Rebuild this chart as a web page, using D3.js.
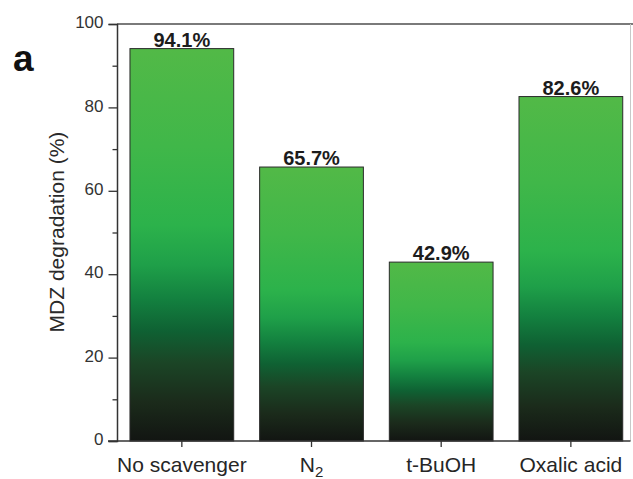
<!DOCTYPE html>
<html>
<head>
<meta charset="utf-8">
<script src="https://cdn.jsdelivr.net/npm/d3@7"></script>
<style>
  html, body { margin: 0; padding: 0; background: #fff; }
  svg { display: block; font-family: "Liberation Sans", Arial, sans-serif; }
</style>
</head>
<body>
<svg id="chart" width="633" height="479"></svg>
<script>
// Scavenger experiment: MDZ degradation (%) per condition
const categories = ["No scavenger", "N2", "t-BuOH", "Oxalic acid"];
const degradation = [94.1, 65.7, 42.9, 82.6];
const yTicks = [0, 20, 40, 60, 80, 100];
const yMinorTicks = [10, 30, 50, 70, 90];

const svg = d3.select("#chart");
const plotLeft = 117, plotRight = 630.5, plotTop = 24, plotBottom = 441;

const y = d3.scaleLinear().domain([0, 100]).range([plotBottom, plotTop]);
const x = d3.scaleBand()
  .domain(categories)
  .range([plotLeft, 635.7])
  .paddingInner(0.2)
  .paddingOuter(0.1);

// vertical green-to-black gradient, relative to each bar
const defs = svg.append("defs");
const grad = defs.append("linearGradient")
  .attr("id", "barFill")
  .attr("x1", 0).attr("y1", 0).attr("x2", 0).attr("y2", 1);
[
  [0.00, "#52b947"],
  [0.25, "#40b749"],
  [0.45, "#2cb24b"],
  [0.55, "#1fa049"],
  [0.64, "#13803f"],
  [0.72, "#0f6133"],
  [0.80, "#1b4526"],
  [0.90, "#1b2b1b"],
  [1.00, "#121512"]
].forEach(([o, c]) => grad.append("stop").attr("offset", o).attr("stop-color", c));

// bars
svg.append("g").selectAll("rect")
  .data(categories)
  .join("rect")
  .attr("x", d => x(d))
  .attr("y", (d, i) => y(degradation[i]))
  .attr("width", x.bandwidth())
  .attr("height", (d, i) => y(0) - y(degradation[i]))
  .attr("fill", "url(#barFill)")
  .attr("stroke", "#2a2a2a")
  .attr("stroke-width", 1);

// value labels
svg.append("g").selectAll("text")
  .data(categories)
  .join("text")
  .attr("x", d => x(d) + x.bandwidth() / 2)
  .attr("y", (d, i) => y(degradation[i]) - 2)
  .attr("text-anchor", "middle")
  .attr("font-size", 20)
  .attr("font-weight", "bold")
  .attr("fill", "#1c1c1c")
  .text((d, i) => degradation[i].toFixed(1) + "%");

// frame: top and right
svg.append("line")
  .attr("x1", plotLeft).attr("x2", 633).attr("y1", plotTop).attr("y2", plotTop)
  .attr("stroke", "#7a7a7a").attr("stroke-width", 2);
svg.append("line")
  .attr("x1", plotRight).attr("x2", plotRight).attr("y1", plotTop).attr("y2", plotBottom)
  .attr("stroke", "#c8c8c8").attr("stroke-width", 1);

// y axis
const yAxis = svg.append("g")
  .attr("transform", `translate(${plotLeft},0)`)
  .call(d3.axisLeft(y).tickValues(yTicks).tickSize(8.5).tickPadding(5));
yAxis.select(".domain").attr("stroke", "#333").attr("stroke-width", 1.5);
yAxis.selectAll(".tick line").attr("stroke", "#333").attr("stroke-width", 1.3);
yAxis.selectAll(".tick text")
  .attr("font-size", 17)
  .attr("fill", "#333")
  .attr("dy", "0.22em")
  .attr("font-family", "Liberation Sans, Arial, sans-serif");
svg.append("g")
  .attr("transform", `translate(${plotLeft},0)`)
  .call(d3.axisLeft(y).tickValues(yMinorTicks).tickSize(4.5).tickFormat(""))
  .call(g => g.select(".domain").remove())
  .selectAll(".tick line").attr("stroke", "#333").attr("stroke-width", 1.3);

// x axis
const xAxis = svg.append("g")
  .attr("transform", `translate(0,${plotBottom})`)
  .call(d3.axisBottom(x).tickSize(6).tickPadding(10).tickSizeOuter(0));
xAxis.select(".domain").remove();
svg.append("line")
  .attr("x1", plotLeft - 9).attr("x2", plotRight).attr("y1", plotBottom).attr("y2", plotBottom)
  .attr("stroke", "#333").attr("stroke-width", 1.5);
xAxis.selectAll(".tick line").attr("stroke", "#333").attr("stroke-width", 1.3);
xAxis.selectAll(".tick text")
  .attr("font-size", 21)
  .attr("fill", "#262626")
  .attr("dy", "0.71em")
  .attr("font-family", "Liberation Sans, Arial, sans-serif")
  .each(function(d) {
    const t = d3.select(this);
    if (d === "N2") {
      t.text("N");
      t.append("tspan").attr("font-size", 15).attr("dy", "0.35em").text("2");
    }
  });

// y axis title
svg.append("text")
  .attr("transform", `translate(64,232) rotate(-90)`)
  .attr("text-anchor", "middle")
  .attr("font-size", 21)
  .attr("fill", "#2a2a2a")
  .text("MDZ degradation (%)");

// panel letter
svg.append("text")
  .attr("x", 13).attr("y", 71)
  .attr("font-size", 37)
  .attr("font-weight", "bold")
  .attr("fill", "#111")
  .text("a");
</script>
</body>
</html>
